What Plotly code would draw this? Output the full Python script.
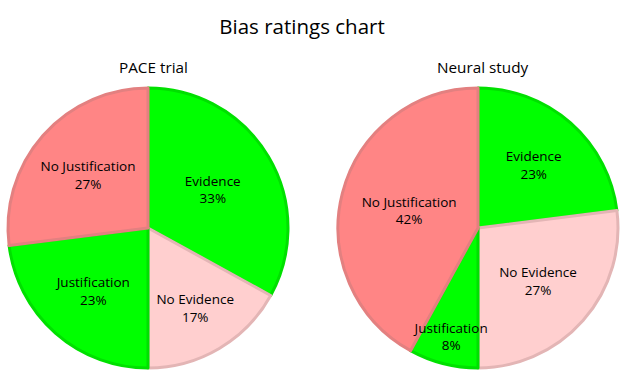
import plotly.graph_objects as go

categories = ["Evidence", "No Evidence", "Justification", "No Justification"]
pace_values = [33, 17, 23, 27]
neural_values = [23, 27, 8, 42]
chart_titles = ["PACE trial", "Neural study"]

fill_colors = ["#00ff00", "#ffcfcf", "#00ff00", "#ff8585"]
line_colors = ["#00e000", "#e3b5b5", "#00e000", "#e38080"]

FONT = "Open Sans"

fig = go.Figure()
domains = [dict(x=[8/624, 288/624], y=[15/383, 295/383]),
           dict(x=[338/624, 618/624], y=[15/383, 295/383])]
for vals, dom, name in zip([pace_values, neural_values], domains, chart_titles):
    # filled slices
    fig.add_trace(go.Pie(
        labels=categories, values=vals, sort=False, direction="clockwise",
        rotation=0, domain=dom, name=name,
        marker=dict(colors=fill_colors, line=dict(color=line_colors, width=3)),
        textinfo="none",
        showlegend=False, hoverinfo="label+percent",
    ))
    # transparent overlay carrying the labels so they sit on top of all slices
    fig.add_trace(go.Pie(
        labels=categories, values=vals, sort=False, direction="clockwise",
        rotation=0, domain=dom, name=name,
        marker=dict(colors=["rgba(0,0,0,0)"] * 4, line=dict(width=0)),
        textposition="inside",
        insidetextorientation="horizontal",
        texttemplate="%{label}<br>%{percent:.0%}",
        textfont=dict(family=FONT, size=13.5, color="black"),
        showlegend=False, hoverinfo="skip",
    ))

fig.update_layout(
    width=624, height=383,
    margin=dict(l=0, r=0, t=0, b=0),
    paper_bgcolor="white", plot_bgcolor="white",
    title=dict(text="Bias ratings chart", x=302/624, xanchor="center",
               y=1 - 27/383, yanchor="middle",
               font=dict(family=FONT, size=20.5, color="black")),
    uniformtext=dict(minsize=13, mode="show"),
    annotations=[
        dict(text=chart_titles[0], x=153/624, y=1 - 67/383, xref="paper", yref="paper",
             showarrow=False, xanchor="center", yanchor="middle",
             font=dict(family=FONT, size=15.3, color="black")),
        dict(text=chart_titles[1], x=483/624, y=1 - 67/383, xref="paper", yref="paper",
             showarrow=False, xanchor="center", yanchor="middle",
             font=dict(family=FONT, size=15.3, color="black")),
    ],
)

fig.write_html("out.html", config={"displayModeBar": False},
               post_script="document.body.style.margin='0';")
